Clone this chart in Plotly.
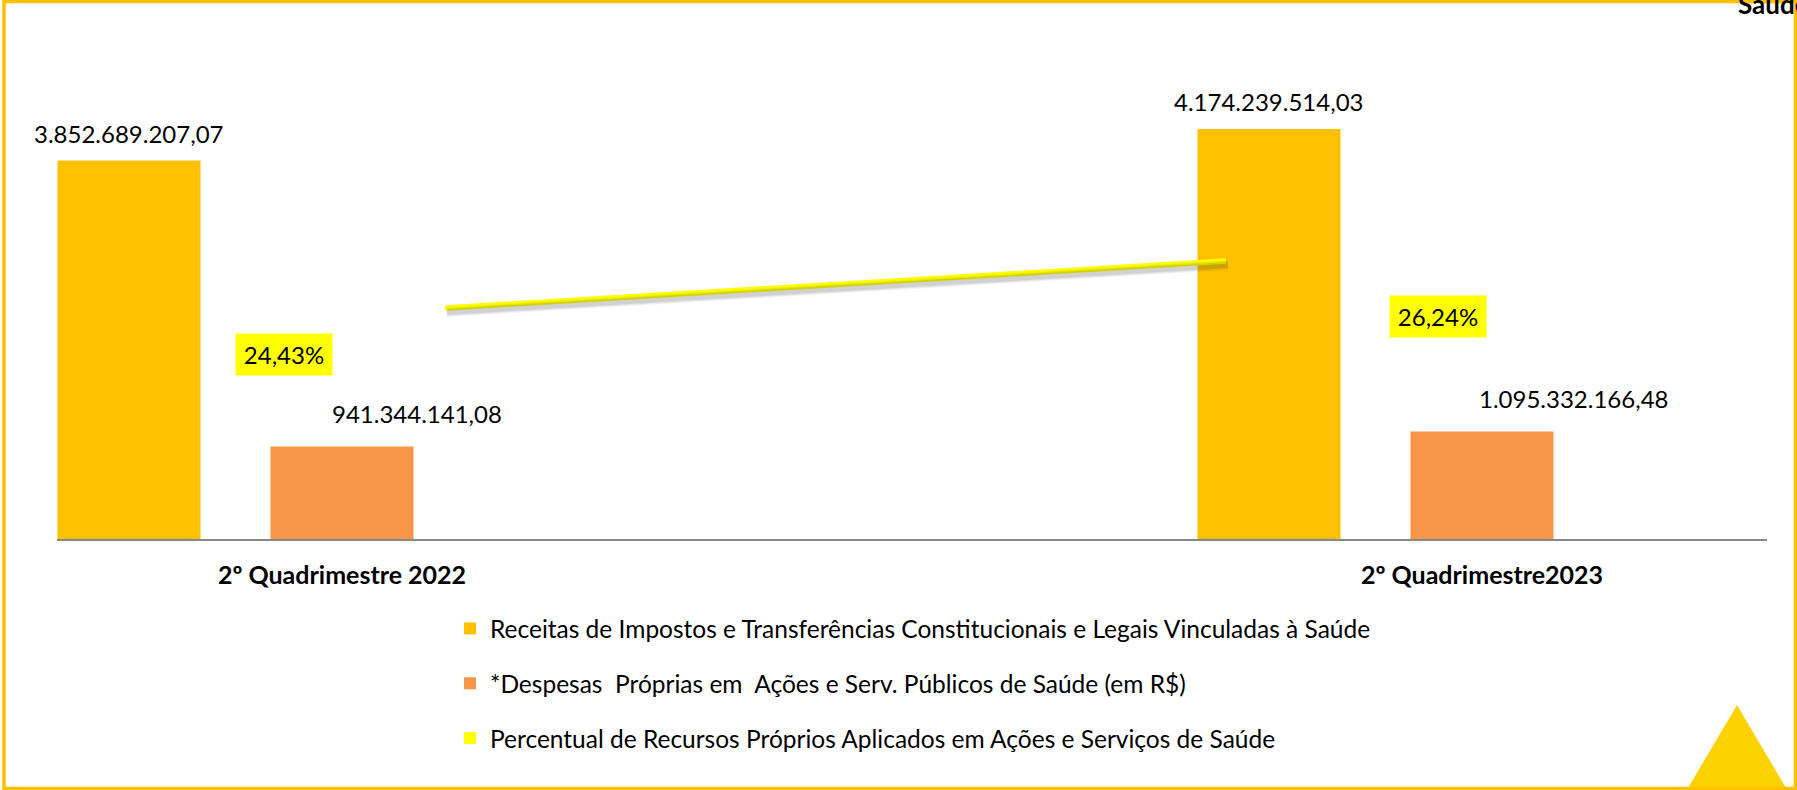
import plotly.graph_objects as go

# ---- data -------------------------------------------------------------
categories = ["2º Quadrimestre 2022", "2º Quadrimestre2023"]
receitas = [3852689207.07, 4174239514.03]
despesas = [941344141.08, 1095332166.48]
percentual = [24.43, 26.24]

series_names = [
    "Receitas de Impostos e Transferências Constitucionais e Legais Vinculadas à Saúde",
    "*Despesas  Próprias em  Ações e Serv. Públicos de Saúde (em R$)",
    "Percentual de Recursos Próprios Aplicados em Ações e Serviços de Saúde",
]
header_text = "Saúde"

# ---- styling ----------------------------------------------------------
W, H = 1797, 790
ML, MR, MT, MB = 57, 30, 40, 251
PW, PH = W - ML - MR, H - MT - MB

C_RECEITA = "#FFC000"
C_DESPESA = "#F79646"
C_PCT = "#FFFF00"
C_FRAME = "#FFC000"
C_TRI = "#FCD200"
FONT = "Lato, 'Open Sans', sans-serif"


def br_money(v):
    s = f"{v:,.2f}"
    return s.replace(",", "X").replace(".", ",").replace("X", ".")


def br_pct(p):
    return f"{p:.2f}".replace(".", ",") + "%"


def px_x(px):
    """figure pixel column -> paper x"""
    return (px - ML) / PW


def px_y(py):
    """figure pixel row -> paper y"""
    return (H - MB - py) / PH


fig = go.Figure()

# clustered bars: three slots per category, the percentage series is tiny
# on the currency scale so its slot stays visually empty
fig.add_trace(go.Bar(x=categories, y=receitas, name=series_names[0],
                     marker=dict(color=C_RECEITA, line=dict(width=0)),
                     legendgroup="a", hoverinfo="skip"))
fig.add_trace(go.Bar(x=categories, y=despesas, name=series_names[1],
                     marker=dict(color=C_DESPESA, line=dict(width=0)),
                     legendgroup="b", hoverinfo="skip"))
fig.add_trace(go.Bar(x=categories, y=[p / 100 for p in percentual],
                     name=series_names[2],
                     marker=dict(color=C_PCT, line=dict(width=0)),
                     legendgroup="c", hoverinfo="skip"))

# trend line of the percentage, with a soft drop shadow underneath
for w, a in [(10, 0.05), (8, 0.07), (6, 0.10)]:
    fig.add_trace(go.Scatter(x=categories, y=percentual, mode="lines",
                             line=dict(color=f"rgba(40,40,40,{a})", width=w),
                             xaxis="x3", yaxis="y3", showlegend=False,
                             hoverinfo="skip"))
fig.add_trace(go.Scatter(x=categories, y=percentual, mode="lines",
                         line=dict(color=C_PCT, width=5.5),
                         xaxis="x2", yaxis="y2", showlegend=False,
                         hoverinfo="skip"))

# ---- labels -----------------------------------------------------------
ann = []
slot = 0.1873  # distance between neighbouring bar slots, in category units
for i, v in enumerate(receitas):
    ann.append(dict(x=i - slot, y=v, xref="x", yref="y", text=br_money(v),
                    showarrow=False, yanchor="middle", yshift=27,
                    font=dict(size=24, color="#000000", family=FONT)))
desp_dx = [0.066, 0.080]
for i, v in enumerate(despesas):
    ann.append(dict(x=i + desp_dx[i], y=v, xref="x", yref="y", text=br_money(v),
                    showarrow=False, yanchor="middle", yshift=33,
                    font=dict(size=24, color="#000000", family=FONT)))
pct_pos = [(284, 354.5), (1438, 316.5)]
for p, (cx, cy) in zip(percentual, pct_pos):
    ann.append(dict(x=px_x(cx), y=px_y(cy), xref="paper", yref="paper",
                    text=br_pct(p), showarrow=False, xanchor="center",
                    yanchor="middle", bgcolor=C_PCT, width=96, height=41,
                    borderpad=0,
                    font=dict(size=24, color="#000000", family=FONT)))
ann.append(dict(x=px_x(1736), y=px_y(22), xref="paper", yref="paper",
                text=f"<b>{header_text}</b>", showarrow=False,
                xanchor="left", yanchor="bottom",
                font=dict(size=26, color="#000000", family=FONT)))

# ---- frame and corner decoration --------------------------------------
shapes = [
    dict(type="path", xref="paper", yref="paper",
         path=(f"M{px_x(1688)},{px_y(788)} L{px_x(1737)},{px_y(705)} "
               f"L{px_x(1786)},{px_y(788)} Z"),
         fillcolor=C_TRI, line=dict(width=0), layer="above"),
    dict(type="rect", xref="paper", yref="paper",
         x0=px_x(4), x1=px_x(1795.5), y0=px_y(788.5), y1=px_y(1.5),
         line=dict(color=C_FRAME, width=3.5), layer="above"),
]

# line axes: the trend line is placed on its own horizontal span
x2_range = [-0.497, 1.693]
y2_range = [15.534, 34.751]
sx, sy = 2 / 781, 4 / 25.967

fig.update_layout(
    width=W, height=H,
    margin=dict(l=ML, r=MR, t=MT, b=MB, pad=0),
    paper_bgcolor="white", plot_bgcolor="white",
    barmode="group", bargap=0.4395, bargroupgap=0.3286,
    font=dict(family=FONT, color="#000000"),
    xaxis=dict(type="category", range=[-0.25, 1.25], showline=True,
               linecolor="#878787", linewidth=2, showgrid=False,
               ticks="", ticklabelstandoff=13,
               tickfont=dict(size=25, family=FONT, color="#000000",
                             weight="bold"),
               fixedrange=True),
    yaxis=dict(range=[0, 5.08e9], visible=False, showgrid=False,
               zeroline=False, fixedrange=True),
    xaxis2=dict(type="category", overlaying="x", range=x2_range,
                visible=False, categoryorder="array",
                categoryarray=categories),
    yaxis2=dict(overlaying="y", range=y2_range, visible=False),
    xaxis3=dict(type="category", overlaying="x",
                range=[x2_range[0] - sx, x2_range[1] - sx],
                visible=False, categoryorder="array",
                categoryarray=categories),
    yaxis3=dict(overlaying="y", range=[y2_range[0] + sy, y2_range[1] + sy],
                visible=False),
    legend=dict(x=px_x(450), y=px_y(606), xanchor="left", yanchor="top",
                orientation="v", traceorder="grouped", tracegroupgap=20,
                bgcolor="rgba(0,0,0,0)", borderwidth=0,
                font=dict(size=24.5, family=FONT, color="#000000")),
    annotations=ann,
    shapes=shapes,
    showlegend=True,
)

fig.write_html("out.html")
